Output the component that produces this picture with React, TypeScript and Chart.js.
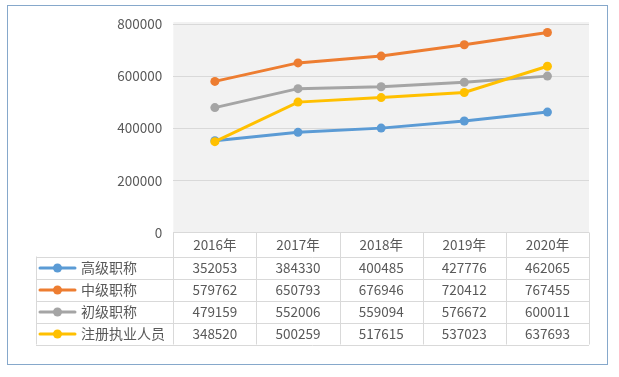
import React, { useEffect, useRef } from "react";
import { Chart, registerables } from "chart.js";

Chart.register(...registerables);

const categories = ["2016年", "2017年", "2018年", "2019年", "2020年"];
const seriesNames = ["高级职称", "中级职称", "初级职称", "注册执业人员"];
const senior = [352053, 384330, 400485, 427776, 462065];
const intermediate = [579762, 650793, 676946, 720412, 767455];
const junior = [479159, 552006, 559094, 576672, 600011];
const registered = [348520, 500259, 517615, 537023, 637693];
const seriesValues = [senior, intermediate, junior, registered];
const colors = ["#5B9BD5", "#ED7D31", "#A5A5A5", "#FFC000"];
const yMin = 0;
const yMax = 800000;
const yStep = 200000;

const FONT = '"Noto Sans CJK SC", "Noto Sans", sans-serif';
const TEXT = "#595959";
const LINE = "#D9D9D9";

const tablePlugin = {
  id: "tablePlugin",
  beforeDraw(chart: any) {
    const ctx = chart.ctx;
    const a = chart.chartArea;
    ctx.save();
    ctx.fillStyle = "#FFFFFF";
    ctx.fillRect(0, 0, chart.width, chart.height);
    ctx.fillStyle = "#F2F2F2";
    ctx.fillRect(a.left, a.top - 2, a.right - a.left, a.bottom - a.top + 2);
    ctx.restore();
  },
  afterDraw(chart: any) {
    const ctx = chart.ctx;
    const a = chart.chartArea;
    const xs = chart.scales.x;
    const n = categories.length;
    const colW = (a.right - a.left) / n;
    const headerTop = a.bottom;
    const headerH = 24;
    const rowH = 22;
    const tableLeft = 36;
    const rowsTop = headerTop + headerH;
    const tableBottom = rowsTop + rowH * seriesNames.length;
    ctx.save();
    // outer frame
    ctx.strokeStyle = "#86A8CB";
    ctx.lineWidth = 1;
    ctx.strokeRect(7.5, 5.5, 600, 359);
    // table grid
    ctx.strokeStyle = LINE;
    ctx.beginPath();
    const px = (v: number) => Math.round(v) + 0.5;
    for (let r = 0; r <= seriesNames.length; r++) {
      const y = px(rowsTop + r * rowH);
      ctx.moveTo(tableLeft, y);
      ctx.lineTo(a.right, y);
    }
    ctx.moveTo(px(tableLeft), rowsTop);
    ctx.lineTo(px(tableLeft), tableBottom);
    for (let c = 0; c <= n; c++) {
      const x = px(a.left + c * colW);
      ctx.moveTo(x, headerTop);
      ctx.lineTo(x, tableBottom);
    }
    ctx.stroke();
    // header text
    ctx.fillStyle = TEXT;
    ctx.textAlign = "center";
    ctx.textBaseline = "middle";
    ctx.font = `13.5px ${FONT}`;
    categories.forEach((c, i) => {
      ctx.fillText(c, xs.getPixelForValue(i), headerTop + headerH / 2);
    });
    // rows
    seriesNames.forEach((name, r) => {
      const cy = rowsTop + r * rowH + rowH / 2 + 0.5;
      ctx.strokeStyle = colors[r];
      ctx.lineWidth = 3;
      ctx.lineCap = "round";
      ctx.beginPath();
      ctx.moveTo(40, cy);
      ctx.lineTo(75, cy);
      ctx.stroke();
      ctx.fillStyle = colors[r];
      ctx.beginPath();
      ctx.arc(57.5, cy, 4.5, 0, Math.PI * 2);
      ctx.fill();
      ctx.fillStyle = TEXT;
      ctx.textAlign = "left";
      ctx.font = `14px ${FONT}`;
      ctx.fillText(name, 81, cy);
      ctx.textAlign = "center";
      ctx.font = `13.5px ${FONT}`;
      seriesValues[r].forEach((v, i) => {
        ctx.fillText(String(v), xs.getPixelForValue(i), cy);
      });
    });
    ctx.restore();
  },
};

export default function App() {
  const ref = useRef<HTMLCanvasElement | null>(null);
  useEffect(() => {
    if (!ref.current) return;
    const chart = new Chart(ref.current, {
      type: "line",
      data: {
        labels: categories,
        datasets: seriesNames.map((name, i) => ({
          label: name,
          data: seriesValues[i],
          borderColor: colors[i],
          backgroundColor: colors[i],
          pointBackgroundColor: colors[i],
          pointBorderColor: colors[i],
          pointRadius: 4.5,
          pointBorderWidth: 0,
          borderWidth: 3,
          tension: 0,
          order: seriesNames.length - 1 - i,
        })),
      },
      options: {
        responsive: false,
        animation: false,
        devicePixelRatio: 1,
        layout: { padding: { left: 0, right: 30, top: 24, bottom: 144.5 } },
        plugins: { legend: { display: false }, tooltip: { enabled: false } },
        scales: {
          x: { type: "category", offset: true, display: false },
          y: {
            min: yMin,
            max: yMax,
            ticks: {
              stepSize: yStep,
              padding: 11,
              color: TEXT,
              font: { family: FONT, size: 13.5 },
              callback: (v: any) => String(v),
            },
            grid: { color: LINE, drawTicks: false, lineWidth: 1 },
            border: { display: false },
            afterFit: (scale: any) => {
              scale.width = 173.3;
            },
          },
        },
      },
      plugins: [tablePlugin],
    });
    return () => chart.destroy();
  }, []);
  return (
    <div style={{ position: "absolute", left: 0, top: 0, width: 619, height: 377, background: "#fff" }}>
      <canvas ref={ref} width={619} height={377} style={{ display: "block" }} />
    </div>
  );
}
